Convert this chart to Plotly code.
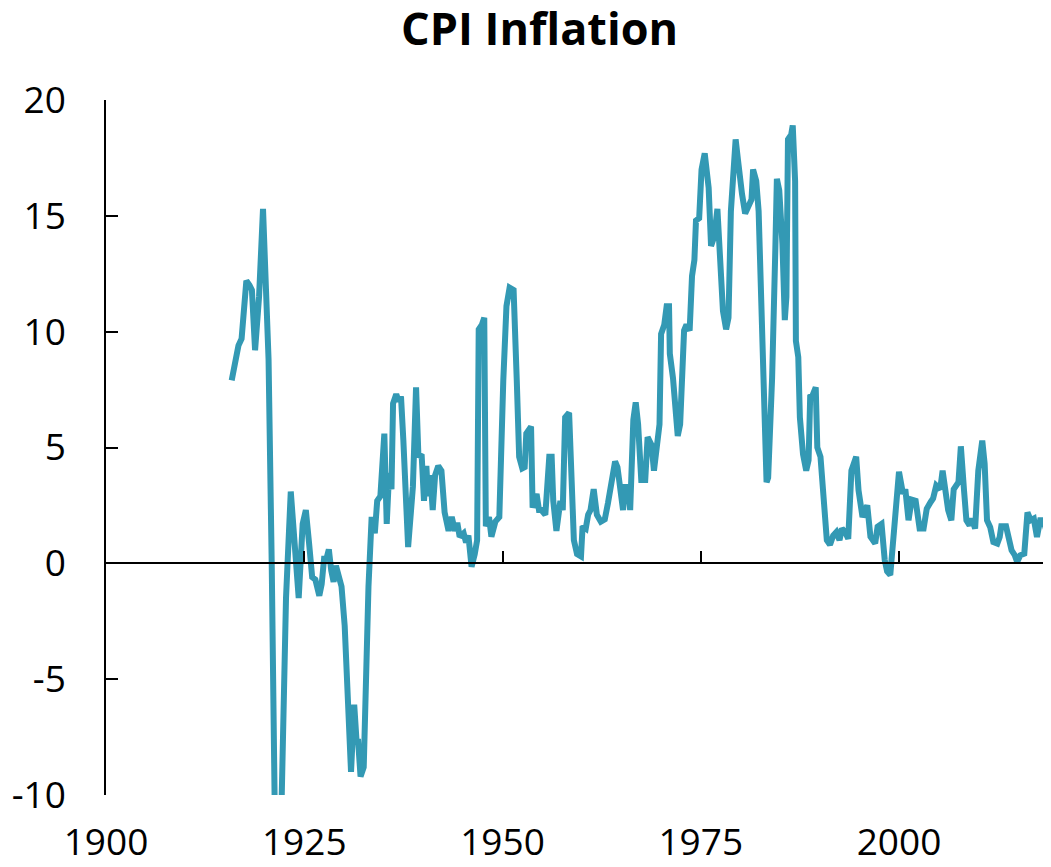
import plotly.graph_objects as go

# quarterly-ish CPI inflation readings, % (year as decimal)
years = [
    1915.85, 1916.7, 1917.1, 1917.7, 1918.1, 1918.4, 1918.8, 1919.3, 1919.8, 1920.5,
    1920.9, 1921.3, 1922.1, 1922.7, 1923.3, 1923.8, 1924.3, 1924.8, 1925.2, 1925.6,
    1926.0, 1926.4, 1926.9, 1927.2, 1927.5, 1927.8, 1928.1, 1928.4, 1928.7, 1929.0,
    1929.3, 1929.7, 1930.1, 1930.6, 1930.9, 1931.3, 1931.6, 1931.8, 1932.1, 1932.5,
    1932.8, 1933.1, 1933.5, 1933.9, 1934.2, 1934.6, 1935.1, 1935.4, 1935.7, 1936.0,
    1936.2, 1936.6, 1936.9, 1937.2, 1937.5, 1938.1, 1938.7, 1939.1, 1939.4, 1939.8,
    1940.1, 1940.4, 1940.6, 1940.9, 1941.2, 1941.5, 1941.9, 1942.3, 1942.7, 1943.2,
    1943.6, 1944.0, 1944.3, 1944.6, 1945.1, 1945.4, 1945.7, 1946.1, 1946.5, 1946.8,
    1947.0, 1947.4, 1947.7, 1947.9, 1948.3, 1948.6, 1949.1, 1949.6, 1950.1, 1950.5,
    1950.9, 1951.4, 1951.8, 1952.1, 1952.5, 1952.8, 1953.0, 1953.6, 1953.8, 1954.3,
    1954.6, 1954.9, 1955.4, 1955.6, 1955.9, 1956.2, 1956.4, 1956.8, 1957.3, 1957.6,
    1957.9, 1958.4, 1958.7, 1959.0, 1959.4, 1959.9, 1960.1, 1960.5, 1960.8, 1961.1,
    1961.5, 1961.9, 1962.4, 1962.9, 1963.3, 1963.8, 1964.2, 1964.5, 1964.8, 1965.2,
    1965.4, 1965.8, 1966.1, 1966.5, 1966.8, 1967.1, 1967.5, 1968.0, 1968.3, 1968.8,
    1969.1, 1969.4, 1969.8, 1970.0, 1970.4, 1970.7, 1971.0, 1971.1, 1971.5, 1972.1,
    1972.4, 1972.9, 1973.2, 1973.6, 1973.9, 1974.2, 1974.4, 1974.8, 1975.1, 1975.5,
    1976.0, 1976.3, 1976.7, 1977.1, 1977.4, 1977.8, 1978.2, 1978.5, 1978.8, 1979.1,
    1979.4, 1979.7, 1980.0, 1980.2, 1980.6, 1981.0, 1981.4, 1981.6, 1982.0, 1982.3,
    1982.7, 1983.0, 1983.3, 1983.5, 1984.0, 1984.4, 1984.6, 1984.9, 1985.3, 1985.6,
    1985.8, 1986.0, 1986.4, 1986.6, 1986.9, 1987.0, 1987.3, 1987.5, 1987.9, 1988.3,
    1988.6, 1988.8, 1989.1, 1989.5, 1989.7, 1990.1, 1990.5, 1990.9, 1991.3, 1991.7,
    1992.1, 1992.5, 1992.8, 1993.2, 1993.6, 1994.0, 1994.6, 1994.9, 1995.4, 1995.7,
    1996.0, 1996.4, 1997.0, 1997.3, 1997.8, 1998.2, 1998.5, 1998.9, 1999.4, 1999.7,
    2000.0, 2000.5, 2000.8, 2001.2, 2001.6, 2002.1, 2002.6, 2003.1, 2003.5, 2004.0,
    2004.3, 2004.7, 2005.2, 2005.5, 2005.8, 2006.2, 2006.6, 2006.9, 2007.5, 2007.8,
    2008.2, 2008.5, 2008.9, 2009.2, 2009.6, 2010.0, 2010.5, 2010.8, 2011.1, 2011.5,
    2011.9, 2012.4, 2012.7, 2012.9, 2013.5, 2013.8, 2014.2, 2014.6, 2014.9, 2015.3,
    2015.8, 2016.2, 2016.6, 2017.0, 2017.4, 2017.8, 2018.2, 2018.6, 2019.0, 2019.3,
]
inflation = [
    7.9, 9.4, 9.7, 12.2, 12.0, 11.8, 9.2, 11.5, 15.3, 8.8,
    -0.1, -11.2, -11.0, -1.5, 3.1, 0.7, -1.5, 1.7, 2.3, 0.9,
    -0.6, -0.7, -1.4, -0.9, 0.2, 0.2, 0.6, -0.3, -0.8, -0.1,
    -0.6, -1.0, -2.7, -6.4, -9.0, -6.1, -7.7, -7.7, -9.2, -8.8,
    -3.5, -1.0, 2.0, 1.3, 2.7, 2.9, 5.6, 1.7, 3.9, 3.2,
    6.9, 7.3, 7.0, 7.2, 5.3, 0.7, 3.3, 7.6, 4.6, 4.7,
    2.7, 4.2, 2.9, 3.8, 2.3, 3.8, 4.2, 4.0, 2.2, 1.4,
    2.0, 1.4, 1.75, 1.15, 1.3, 0.9, 1.2, -0.15, 0.4, 1.0,
    10.1, 10.3, 10.6, 1.6, 2.0, 1.15, 1.8, 2.0, 7.9, 11.1,
    11.9, 11.8, 7.9, 4.6, 4.1, 4.15, 5.6, 5.9, 2.4, 3.0,
    2.3, 2.3, 2.1, 2.9, 4.6, 4.6, 2.7, 1.4, 2.7, 2.3,
    6.3, 6.5, 3.6, 1.0, 0.4, 0.3, 1.6, 1.5, 2.1, 2.3,
    3.2, 2.1, 1.8, 1.9, 2.6, 3.7, 4.4, 4.15, 3.4, 2.3,
    3.3, 3.3, 2.3, 6.2, 6.95, 6.0, 3.6, 3.6, 5.45, 5.1,
    4.0, 5.1, 6.0, 9.9, 10.3, 11.1, 11.1, 9.05, 8.0, 5.5,
    6.0, 10.05, 10.3, 10.05, 12.4, 13.1, 14.8, 14.9, 17.0, 17.7,
    16.2, 13.7, 14.1, 15.3, 13.8, 10.9, 10.1, 10.6, 15.2, 16.7,
    18.3, 17.4, 16.2, 15.95, 15.1, 15.4, 15.7, 17.0, 16.5, 15.2,
    10.2, 5.2, 3.5, 3.7, 8.0, 13.5, 16.6, 16.1, 13.8, 10.5,
    11.5, 18.3, 18.5, 18.9, 16.5, 9.6, 8.9, 6.3, 4.7, 4.0,
    4.45, 7.2, 7.25, 7.6, 5.0, 4.6, 2.8, 1.0, 0.8, 1.2,
    1.35, 1.0, 1.5, 1.35, 1.06, 4.0, 4.6, 3.15, 2.0, 2.3,
    2.5, 1.15, 0.86, 1.58, 1.7, 0.14, -0.35, -0.5, 1.86, 3.0,
    3.95, 3.0, 3.2, 1.86, 2.75, 2.7, 1.5, 1.5, 2.36, 2.65,
    2.8, 3.36, 3.2, 4.0, 3.3, 2.3, 1.86, 3.2, 3.5, 5.05,
    3.15, 1.86, 1.64, 1.93, 1.5, 4.0, 5.3, 4.3, 1.86, 1.56,
    0.92, 0.85, 1.14, 1.6, 1.6, 1.0, 0.56, 0.35, 0.06, 0.35,
    0.42, 2.2, 1.86, 1.93, 1.14, 1.86, 1.86, 1.4, 2.57, 2.6,
]

x_ticks = [1900, 1925, 1950, 1975, 2000]
y_ticks = [-10, -5, 0, 5, 10, 15, 20]
y_labels = ["-10", "-5", "0", "5", "10", "15", "20"]
x_range = [1900, 2018.16]

font_family = "Open Sans"

fig = go.Figure()
fig.add_trace(go.Scatter(
    x=years, y=inflation, mode="lines",
    line=dict(color="#3399b4", width=6),
    showlegend=False, hoverinfo="x+y",
))
# empty trace so the zero-line axis gets drawn
fig.add_trace(go.Scatter(x=[], y=[], xaxis="x2", yaxis="y", showlegend=False))

# page body has an 8px margin, so the figure is sized to fit inside the window
fig.update_layout(
    width=1035, height=859,
    margin=dict(l=98, r=0, t=92, b=72, autoexpand=False),
    paper_bgcolor="white", plot_bgcolor="white",
    font=dict(family=font_family, color="black"),
    title=dict(
        text="CPI Inflation",
        font=dict(family=font_family, size=45, weight="bold", color="black"),
        x=0.5136, xanchor="center", xref="container",
        y=0.9756, yanchor="middle", yref="container",
    ),
    xaxis=dict(
        range=x_range, tickvals=x_ticks, showline=False, ticks="",
        showgrid=False, zeroline=False, tickfont=dict(size=37),
        ticklabelstandoff=22, automargin=False,
    ),
    xaxis2=dict(
        overlaying="x", anchor="free", position=1 / 3, matches="x",
        tickvals=x_ticks, showticklabels=False, showline=True,
        linecolor="black", linewidth=1.5, ticks="inside", ticklen=12,
        tickcolor="black", tickwidth=1.5, showgrid=False, zeroline=False,
        automargin=False,
    ),
    yaxis=dict(
        range=[-10, 20], tickvals=y_ticks, ticktext=y_labels,
        showline=True, linecolor="black",
        linewidth=1.5, ticks="inside", ticklen=12, tickcolor="black",
        tickwidth=1.5, showgrid=False, zeroline=False, tickfont=dict(size=37),
        ticklabelstandoff=31, automargin=False,
    ),
)

fig.write_html("out.html")
